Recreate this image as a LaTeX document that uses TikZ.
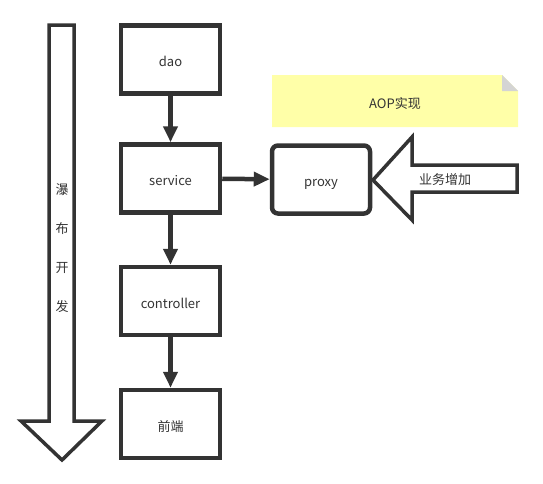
\documentclass[tikz,border=0pt]{standalone}
\usepackage{fontspec}
\setmainfont{Noto Sans CJK SC}
\usetikzlibrary{arrows.meta}
\definecolor{ink}{HTML}{333333}
\definecolor{notefill}{HTML}{FFFFA8}
\definecolor{notefold}{HTML}{D4D4D4}

\begin{document}
\begin{tikzpicture}[x=1pt, y=-1pt, >={Triangle[length=16pt, width=14pt]},
	every node/.style={font=\fontsize{13}{15}\selectfont, text=ink},
	caption/.style={text height=14.5pt, text depth=0pt},
	layer/.style={caption, draw=ink, line width=4.5pt, minimum width=99pt, minimum height=68pt, inner sep=0pt},
	flow/.style={->, draw=ink, line width=4.5pt},
	block/.style={draw=ink, line width=3.5pt, fill=white, line join=miter}]
	\useasboundingbox (0,0) rectangle (543,483);
	% layers, top to bottom
	\foreach \n/\y/\t in {dao/59.5/dao, service/178.5/service, controller/301/controller, front/424/前端} {\node[layer] (\n) at (170.5,\y) {\t};}
	\node[layer, minimum width=98pt, rounded corners=6pt] (proxy) at (321,179.5) {proxy};
	\foreach \a/\b in {dao/service, service/controller, controller/front} {\draw[flow] (\a) -- (\b);}
	\draw[flow] (service) -- (proxy);
	% note
	\fill[notefill] (272,75) -- (502,75) -- (518,91) -- (518,127) -- (272,127) -- cycle;
	\fill[notefold] (502,75) -- (518,91) -- (502,91) -- cycle;
	\node[caption] (aop) at (395,101.5) {AOP实现};
	% big arrows
	\draw[block] (49,25) -- (74,25) -- (74,421) -- (102,421) -- (62,460) -- (21,421) -- (49,421) -- cycle;
	\node[align=center, font=\fontsize{13}{39}\selectfont] (waterfall) at (62,248) {瀑\\布\\开\\发};
	\coordinate (tip) at (373,180);
	\draw[block] (tip) -- (412,137) -- (412,165) -- (517,165) -- (517,192) -- (412,192) -- (412,220) -- cycle;
	\node[caption] (gain) at (445,177.5) {业务增加};
\end{tikzpicture}
\end{document}
